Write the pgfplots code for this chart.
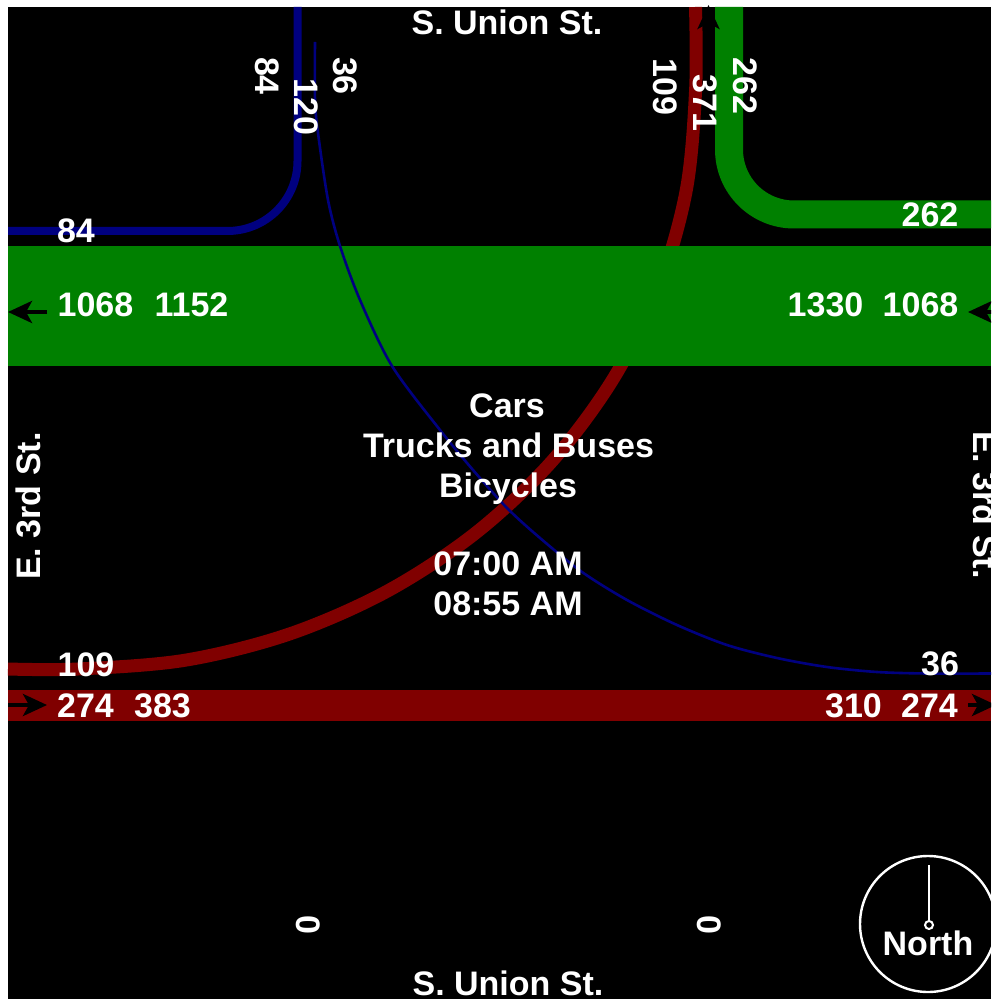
\documentclass[border=0pt]{standalone}
\usepackage{fontspec}
\setmainfont{Liberation Sans}
\usepackage{pgfplots}
\pgfplotsset{compat=1.18}
\usetikzlibrary{arrows.meta}
\definecolor{cgreen}{RGB}{0,128,0}
\definecolor{cred}{RGB}{128,0,0}
\definecolor{cblue}{RGB}{0,0,128}
\begin{document}
\begin{tikzpicture}[lbl/.style={text=white,font=\fontsize{17}{20}\selectfont\bfseries,inner sep=0pt,anchor=base}]
\begin{axis}[hide axis, scale only axis, width=495.5pt, height=499.5pt,
  xmin=0, xmax=991, ymin=0, ymax=999, y dir=reverse, clip=true]
% background
\addplot[draw=none, fill=white, mark=none] coordinates {(0,0)(991,0)(991,999)(0,999)} -- cycle;
\addplot[draw=none, fill=black, mark=none] coordinates {(8,7)(991,7)(991,999)(8,999)} -- cycle;
% southbound right turn (84)
\addplot[cblue, line width=4pt, rounded corners=35pt, mark=none] coordinates {(297.5,7)(297.5,231)(8,231)};
% red left turn (109)
\addplot[cred, line width=6.5pt, smooth, tension=0.55, mark=none] coordinates {
(695.5,7)(695.6,90)(686.2,190.5)(658.4,288)(612.8,379.5)(551.1,462.2)(475,533.5)(386.8,591.4)(289.2,634.1)(185.2,660.2)(78,669)(8,669)};
% green right turn (262)
\addplot[cgreen, line width=14pt, rounded corners=32.5pt, mark=none] coordinates {(729,7)(729,214.5)(991,214.5)};
% westbound through band
\addplot[draw=none, fill=cgreen, mark=none] coordinates {(8,246)(991,246)(991,366)(8,366)} -- cycle;
% eastbound through band
\addplot[draw=none, fill=cred, mark=none] coordinates {(8,690)(991,690)(991,721)(8,721)} -- cycle;
% thin blue left turn (36)
\addplot[cblue, line width=1.3pt, smooth, tension=0.5, mark=none] coordinates {
(315,42)(315,100)(318,133)(328,200)(340,246)(360,300)(392,366)(440,430)(473,470)(507,508)(540,538)(582,572)(627,600)(677,625)(727,645)(777,658)(827,667)(877,672)(927,673.5)(991,673.5)};
% arrows
\addplot[black, line width=2pt, -{Stealth[length=12pt,width=11pt,inset=3pt]}, mark=none] coordinates {(47,312)(8,312)};
\addplot[black, line width=2pt, -{Stealth[length=12pt,width=11pt,inset=3pt]}, mark=none] coordinates {(1010,312)(968,312)};
\addplot[black, line width=2pt, -{Stealth[length=12pt,width=11pt,inset=3pt]}, mark=none] coordinates {(8,705)(47,705)};
\addplot[black, line width=2pt, -{Stealth[length=12pt,width=11pt,inset=3pt]}, mark=none] coordinates {(968,705)(996,705)};
\addplot[black, line width=2pt, -{Stealth[length=12pt,width=11pt,inset=3pt]}, mark=none] coordinates {(708.5,100)(708.5,5)};
% compass
\draw[white, line width=1.2pt] (axis cs:928,924) circle[radius=34pt];
\draw[white, line width=1pt] (axis cs:929,865) -- (axis cs:929,921);
\draw[white, fill=black, line width=1pt] (axis cs:929,925) circle[radius=2pt];
\node[lbl] at (axis cs:928,955) {North};
% street names
\node[lbl] at (axis cs:507,35) {S. Union St.};
\node[lbl] at (axis cs:508,995) {S. Union St.};
\node[lbl, rotate=90] at (axis cs:40,506) {E. 3rd St.};
\node[lbl, rotate=-90] at (axis cs:973,505) {E. 3rd St.};
% centre text
\node[lbl] at (axis cs:507,417) {Cars};
\node[lbl] at (axis cs:508.5,457) {Trucks and Buses};
\node[lbl] at (axis cs:508,497) {Bicycles};
\node[lbl] at (axis cs:508,575) {07:00 AM};
\node[lbl] at (axis cs:508,615) {08:55 AM};
% top approach counts
\node[lbl, rotate=-90] at (axis cs:255,76) {84};
\node[lbl, rotate=-90] at (axis cs:294,107) {120};
\node[lbl, rotate=-90] at (axis cs:333,76) {36};
\node[lbl, rotate=-90] at (axis cs:653,87) {109};
\node[lbl, rotate=-90] at (axis cs:693,103) {371};
\node[lbl, rotate=-90] at (axis cs:733,86) {262};
% bottom approach counts
\node[lbl, rotate=-90] at (axis cs:296,925) {0};
\node[lbl, rotate=-90] at (axis cs:697,925) {0};
% horizontal counts
\node[lbl] at (axis cs:76,243) {84};
\node[lbl] at (axis cs:95.5,317) {1068};
\node[lbl] at (axis cs:191.5,317) {1152};
\node[lbl] at (axis cs:825.5,317) {1330};
\node[lbl] at (axis cs:920.5,317) {1068};
\node[lbl] at (axis cs:930,227) {262};
\node[lbl] at (axis cs:86,676) {109};
\node[lbl] at (axis cs:85.5,717) {274};
\node[lbl] at (axis cs:162.5,717) {383};
\node[lbl] at (axis cs:853.5,717) {310};
\node[lbl] at (axis cs:929.5,717) {274};
\node[lbl] at (axis cs:940,675) {36};
\end{axis}
\end{tikzpicture}
\end{document}
